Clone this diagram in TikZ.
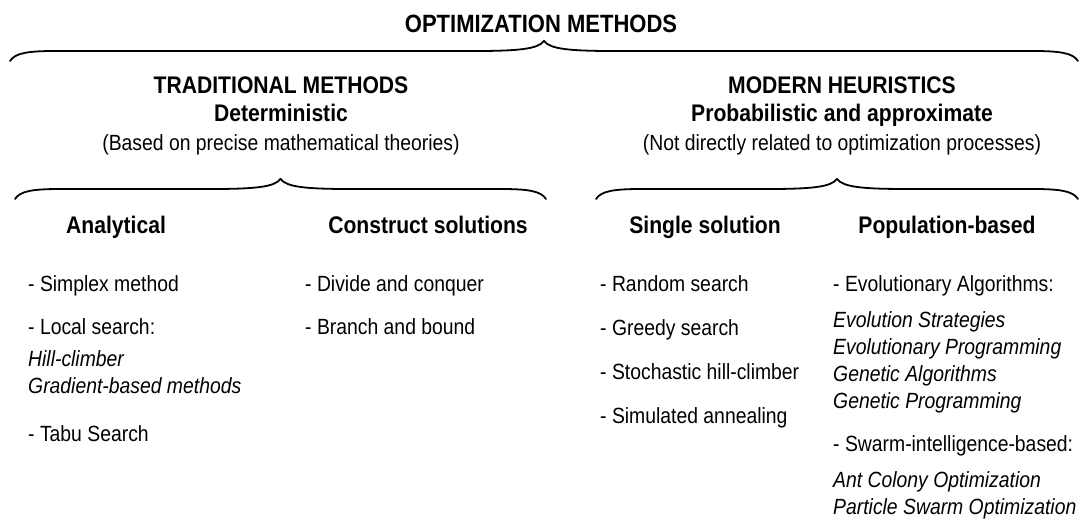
\documentclass[tikz,border=0pt]{standalone}
\usepackage{fontspec}
\setmainfont{Liberation Sans}[FakeStretch=0.88]
\usetikzlibrary{positioning}

% curly brace over a group: left x, right x, y of the ends
\newcommand{\grpbrace}[3]{%
	\pgfmathsetmacro{\bmid}{(#1+#2)/2}
	\draw[brc] (#1,#3) .. controls (#1+5,#3-8) and (#1+18,#3-10) .. (#1+45,#3-10)
		-- (\bmid-70,#3-10) .. controls (\bmid-25,#3-10) and (\bmid-6,#3-12) .. (\bmid,#3-20)
		.. controls (\bmid+6,#3-12) and (\bmid+25,#3-10) .. (\bmid+70,#3-10)
		-- (#2-45,#3-10) .. controls (#2-18,#3-10) and (#2-5,#3-8) .. (#2,#3);
}

\begin{document}
\begin{tikzpicture}[x=1pt, y=-1pt,
title/.style={
	font=\fontsize{25}{29}\selectfont\bfseries,
	anchor=base,
	inner sep=0pt},
head/.style={
	font=\fontsize{24}{28}\selectfont\bfseries,
	anchor=base,
	inner sep=0pt},
note/.style={
	font=\fontsize{22}{26}\selectfont,
	anchor=base,
	inner sep=0pt},
item/.style={
	font=\fontsize{22}{26}\selectfont,
	anchor=base west,
	inner sep=0pt},
sub/.style={
	item,
	font=\fontsize{22}{26}\selectfont\itshape},
brc/.style={
	line width=1.8pt,
	line cap=round}]

\useasboundingbox (0,0) rectangle (1081,523);

%Title and top brace
\node[title] (opt) at (541,32) {OPTIMIZATION METHODS};
\grpbrace{10}{1078}{61}

%Traditional methods
\node[head] (trad) at (281,93) {TRADITIONAL METHODS};
\node[head] (det) at (281,121) {Deterministic};
\node[note] (based) at (281,150) {(Based on precise mathematical theories)};
\grpbrace{15}{546}{199}

\node[head] (ana) at (116,233) {Analytical};
\node[head] (cons) at (428,233) {Construct solutions};

\node[item] (simplex) at (28,291) {- Simplex method};
\node[item] (local) at (28,334) {- Local search:};
\node[sub] (hill) at (28,366) {Hill-climber};
\node[sub] (grad) at (28,393) {Gradient-based methods};
\node[item] (tabu) at (28,441) {- Tabu Search};

\node[item] (divide) at (305,291) {- Divide and conquer};
\node[item] (branch) at (305,334) {- Branch and bound};

%Modern heuristics
\node[head] (mod) at (842,93) {MODERN HEURISTICS};
\node[head] (prob) at (842,121) {Probabilistic and approximate};
\node[note] (notrel) at (842,150) {(Not directly related to optimization processes)};
\grpbrace{596}{1078}{199}

\node[head] (single) at (705,233) {Single solution};
\node[head] (pop) at (947,233) {Population-based};

\foreach \i/\y/\txt in {1/291/Random search, 2/335/Greedy search, 3/379/Stochastic hill-climber, 4/423/Simulated annealing}
	\node[item] (ss\i) at (600,\y) {- \txt};

\node[item] (evo) at (833,291) {- Evolutionary Algorithms:};
\foreach \i/\y/\txt in {1/327/Evolution Strategies, 2/354/Evolutionary Programming, 3/381/Genetic Algorithms, 4/408/Genetic Programming}
	\node[sub] (ea\i) at (833,\y) {\txt};

\node[item] (swarm) at (833,451) {- Swarm-intelligence-based:};
\foreach \i/\y/\txt in {1/487/Ant Colony Optimization, 2/514/Particle Swarm Optimization}
	\node[sub] (si\i) at (833,\y) {\txt};

\end{tikzpicture}
\end{document}
